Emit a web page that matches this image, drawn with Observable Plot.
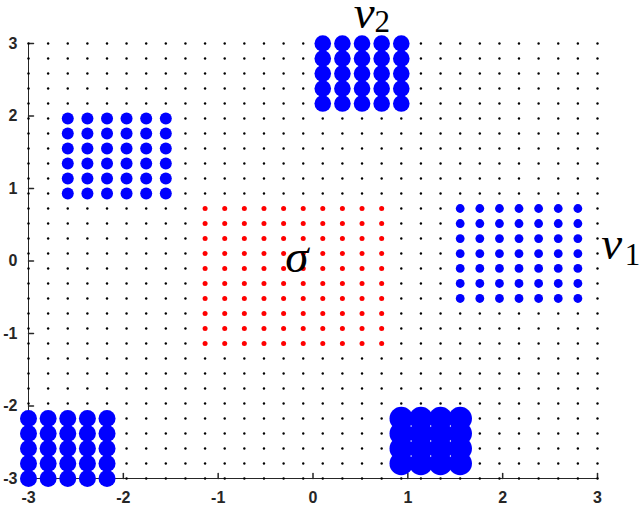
<!DOCTYPE html>
<html><head><meta charset="utf-8">
<script src="https://cdn.jsdelivr.net/npm/d3@7"></script>
<script src="https://cdn.jsdelivr.net/npm/@observablehq/plot@0.6"></script>
<style>html,body{margin:0;padding:0;background:#fff;} svg{display:block;}</style>
</head><body><div id="chart"></div>
<script>
// 30 grid positions on [-3, 3]
const gridValues = [-3.000, -2.793, -2.586, -2.379, -2.172, -1.966, -1.759, -1.552, -1.345, -1.138,
  -0.931, -0.724, -0.517, -0.310, -0.103, 0.103, 0.310, 0.517, 0.724, 0.931,
  1.138, 1.345, 1.552, 1.759, 1.966, 2.172, 2.379, 2.586, 2.793, 3.000];
const axisTicks = [-3, -2, -1, 0, 1, 2, 3];
const tickLabels = ["-3", "-2", "-1", "0", "1", "2", "3"];

// sigma (red)
const sigmaX = [-1.138, -0.931, -0.724, -0.517, -0.310, -0.103, 0.103, 0.310, 0.517, 0.724];
const sigmaY = [-1.138, -0.931, -0.724, -0.517, -0.310, -0.103, 0.103, 0.310, 0.517, 0.724];
// blue blocks
const blockTopLeftX = [-2.586, -2.379, -2.172, -1.966, -1.759, -1.552];
const blockTopLeftY = [0.931, 1.138, 1.345, 1.552, 1.759, 1.966];
const nu2X = [0.103, 0.310, 0.517, 0.724, 0.931];
const nu2Y = [2.172, 2.379, 2.586, 2.793, 3.000];
const nu1X = [1.552, 1.759, 1.966, 2.172, 2.379, 2.586, 2.793];
const nu1Y = [-0.517, -0.310, -0.103, 0.103, 0.310, 0.517, 0.724];
const blockBottomLeftX = [-3.000, -2.793, -2.586, -2.379, -2.172];
const blockBottomLeftY = [-3.000, -2.793, -2.586, -2.379, -2.172];
const blockBottomRightX = [0.931, 1.138, 1.345, 1.552];
const blockBottomRightY = [-2.793, -2.586, -2.379, -2.172];

// annotations (data coordinates)
const mainLabels = [
  {label: "σ", x: -0.17, y: 0.05},
  {label: "ν", x: 3.15, y: 0.23},
  {label: "ν", x: 0.54, y: 3.42}
];
const subLabels = [
  {label: "1", x: 3.37, y: 0.085},
  {label: "2", x: 0.73, y: 3.29}
];

const cross = (xs, ys) => xs.flatMap(x => ys.map(y => ({x, y})));
const tickShape = {draw(context, l) { context.moveTo(0, 0); context.lineTo(0, -l); }};
const axisColor = "#262626";
const tickData = axisTicks.map((v, i) => ({v, label: tickLabels[i]}));

const chart = Plot.plot({
  width: 640,
  height: 505,
  marginLeft: 28,
  marginRight: 43,
  marginTop: 43,
  marginBottom: 27,
  style: {fontFamily: "Liberation Sans", background: "#fff"},
  x: {domain: [-3, 3], label: null, axis: null},
  y: {domain: [-3, 3], label: null, axis: null},
  marks: [
    Plot.ruleY([-3], {stroke: axisColor, strokeWidth: 1}),
    Plot.ruleX([-3], {stroke: axisColor, strokeWidth: 1}),
    Plot.vector(axisTicks, {x: d => d, y: -3, length: 5, rotate: 0, anchor: "start", shape: tickShape, stroke: axisColor}),
    Plot.vector(axisTicks, {x: -3, y: d => d, length: 5, rotate: 90, anchor: "start", shape: tickShape, stroke: axisColor}),
    Plot.text(tickData, {x: "v", y: -3, text: "label", dy: 19, fontSize: 16, fontWeight: "bold", fontFamily: "Liberation Sans", fill: axisColor}),
    Plot.text(tickData, {x: -3, y: "v", text: "label", dx: -11, textAnchor: "end", fontSize: 16, fontWeight: "bold", fontFamily: "Liberation Sans", fill: axisColor}),
    Plot.dot(cross(gridValues, gridValues), {x: "x", y: "y", r: 1.2, fill: "black", stroke: null}),
    Plot.dot(cross(sigmaX, sigmaY), {x: "x", y: "y", r: 2.5, fill: "red"}),
    Plot.dot(cross(blockTopLeftX, blockTopLeftY), {x: "x", y: "y", r: 6, fill: "blue"}),
    Plot.dot(cross(nu2X, nu2Y), {x: "x", y: "y", r: 8.3, fill: "blue"}),
    Plot.dot(cross(nu1X, nu1Y), {x: "x", y: "y", r: 4.4, fill: "blue"}),
    Plot.dot(cross(blockBottomLeftX, blockBottomLeftY), {x: "x", y: "y", r: 8.5, fill: "blue"}),
    Plot.dot(cross(blockBottomRightX, blockBottomRightY), {x: "x", y: "y", r: 11.8, fill: "blue"}),
    Plot.text(mainLabels, {x: "x", y: "y", text: "label", fontSize: 47, fontStyle: "italic", fontFamily: "Liberation Serif", fill: "black"}),
    Plot.text(subLabels, {x: "x", y: "y", text: "label", fontSize: 31, fontFamily: "Liberation Serif", fill: "black"})
  ]
});
document.getElementById("chart").appendChild(chart);
</script>
</body></html>
